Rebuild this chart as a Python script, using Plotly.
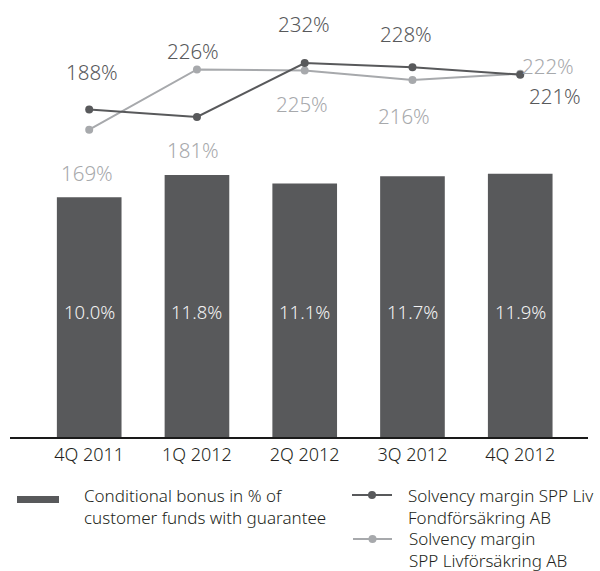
import plotly.graph_objects as go

# ---------------- data ----------------
quarters = ["4Q 2011", "1Q 2012", "2Q 2012", "3Q 2012", "4Q 2012"]
bonus_pct = [10.0, 11.8, 11.1, 11.7, 11.9]          # Conditional bonus in % of customer funds with guarantee
solv_fond = [188, 181, 232, 228, 221]               # Solvency margin SPP Liv Fondförsäkring AB
solv_liv = [169, 226, 225, 216, 222]                # Solvency margin SPP Livförsäkring AB

legend_bar = "Conditional bonus in % of<br>customer funds with guarantee"
legend_fond = "Solvency margin SPP Liv<br>Fondförsäkring AB"
legend_liv = "Solvency margin<br>SPP Livförsäkring AB"

# ---------------- layout constants ----------------
W, H = 600, 571
ML, MR, MT, MB = 10, 12, 0, 134
PW = W - ML - MR
PH = H - MT - MB

def pxx(xp):
    return (xp - ML) / PW

def pxy(yp):
    return (H - MB - yp) / PH

DARK = "#58595b"
LIGHT = "#a7a9ac"
TEXT = "#231f20"
FONT = "Noto Sans"
WEIGHT = 300

BAR_BASE = -9.33
BAR_TOP = 25.9
LINE_RANGE = [-121.9, 291.7]

fig = go.Figure()

fig.add_trace(go.Bar(
    x=quarters,
    y=[v - BAR_BASE for v in bonus_pct],
    base=BAR_BASE,
    width=0.6,
    marker=dict(color=DARK, line=dict(width=0)),
    name="Conditional bonus",
    showlegend=False,
    hoverinfo="skip",
))

fig.add_trace(go.Scatter(
    x=quarters, y=solv_liv, yaxis="y2", mode="lines+markers",
    line=dict(color=LIGHT, width=2), marker=dict(color=LIGHT, size=8),
    showlegend=False, name="Solvency margin SPP Livförsäkring AB",
))
fig.add_trace(go.Scatter(
    x=quarters, y=solv_fond, yaxis="y2", mode="lines+markers",
    line=dict(color=DARK, width=2), marker=dict(color=DARK, size=8),
    showlegend=False, name="Solvency margin SPP Liv Fondförsäkring AB",
))

annotations = []

# bar value labels
for i, v in enumerate(bonus_pct):
    annotations.append(dict(
        x=i, xref="x", y=pxy(312), yref="paper", text=f"{v:.1f}%",
        showarrow=False, font=dict(family=FONT, size=18.5, color="#f2f2f2", weight=WEIGHT),
        xanchor="center", yanchor="middle",
    ))

# line value labels (pixel placement as in the reference)
fond_pos = [(92, 72, DARK), (193, 150, LIGHT), (304, 24, DARK), (406, 34, DARK), (555, 96, DARK)]
liv_pos = [(87, 173, LIGHT), (193, 51, DARK), (302, 104, LIGHT), (404, 116, LIGHT), (548, 66, LIGHT)]
for vals, pos in ((solv_fond, fond_pos), (solv_liv, liv_pos)):
    for v, (xp, yp, col) in zip(vals, pos):
        annotations.append(dict(
            x=pxx(xp), xref="paper", y=pxy(yp), yref="paper", text=f"{v}%",
            showarrow=False, font=dict(family=FONT, size=20.5, color=col, weight=WEIGHT),
            xanchor="center", yanchor="middle",
        ))

# legend texts
for txt, xp, yp in ((legend_bar, 82, 507), (legend_fond, 406, 507), (legend_liv, 407, 549)):
    annotations.append(dict(
        x=pxx(xp), xref="paper", y=pxy(yp), yref="paper", text=txt,
        showarrow=False, align="left", font=dict(family=FONT, size=17, color=TEXT, weight=WEIGHT),
        xanchor="left", yanchor="middle",
    ))

shapes = [
    dict(type="rect", xref="paper", yref="paper", x0=pxx(17), x1=pxx(59), y0=pxy(496), y1=pxy(503),
         fillcolor=DARK, line=dict(width=0)),
    dict(type="line", xref="paper", yref="paper", x0=pxx(352), x1=pxx(392), y0=pxy(495), y1=pxy(495),
         line=dict(color=DARK, width=2)),
    dict(type="circle", xref="paper", yref="paper", x0=pxx(368), x1=pxx(376), y0=pxy(491), y1=pxy(499),
         fillcolor=DARK, line=dict(width=0)),
    dict(type="line", xref="paper", yref="paper", x0=pxx(353), x1=pxx(392), y0=pxy(539), y1=pxy(539),
         line=dict(color=LIGHT, width=2)),
    dict(type="circle", xref="paper", yref="paper", x0=pxx(368.5), x1=pxx(376.5), y0=pxy(535), y1=pxy(543),
         fillcolor=LIGHT, line=dict(width=0)),
]

fig.update_layout(
    width=W, height=H,
    margin=dict(l=ML, r=MR, t=MT, b=MB, pad=0),
    paper_bgcolor="white", plot_bgcolor="white",
    font=dict(family=FONT, color=TEXT, weight=WEIGHT),
    xaxis=dict(
        type="category", range=[-0.735, 4.629],
        showgrid=False, zeroline=False,
        showline=True, linecolor="#1a1a1a", linewidth=2,
        ticks="", ticklen=0,
        tickfont=dict(family=FONT, size=18, color=TEXT, weight=WEIGHT),
    ),
    yaxis=dict(range=[BAR_BASE, BAR_TOP], visible=False, showgrid=False, zeroline=False),
    yaxis2=dict(range=LINE_RANGE, overlaying="y", visible=False, showgrid=False, zeroline=False),
    annotations=annotations,
    shapes=shapes,
    showlegend=False,
)

fig.write_html("out.html")
